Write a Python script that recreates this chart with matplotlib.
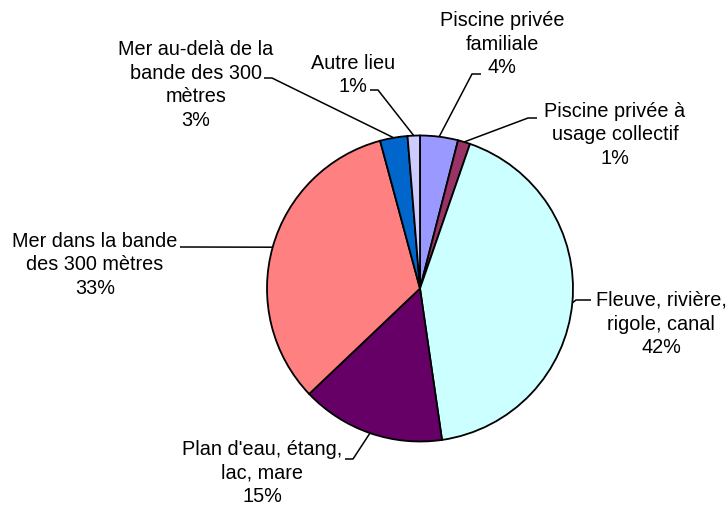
import numpy as np
import matplotlib
matplotlib.use('Agg')
import matplotlib.pyplot as plt

plt.rcParams['font.family'] = ['Liberation Sans', 'DejaVu Sans']

# données (parts en %)
labels = ['Piscine privée\nfamiliale', 'Piscine privée à\nusage collectif',
          'Fleuve, rivière,\nrigole, canal', "Plan d'eau, étang,\nlac, mare",
          'Mer dans la bande\ndes 300 mètres', 'Mer au-delà de la\nbande des 300\nmètres',
          'Autre lieu']
values = [4.0, 1.3, 42.4, 15.2, 32.9, 2.9, 1.3]
colors = ['#9999FF', '#993366', '#CCFFFF', '#660066', '#FF8080', '#0066CC', '#CCCCFF']

# mise en page (pixels, origine en haut à gauche)
W, H = 728, 507
cx, cy, R = 420, 288.5, 153
# centre du texte, coude du trait, fin du trait
layout = [
    ((502, 44), (472, 74), (481, 74)),
    ((615, 135), (528, 118), (537, 118)),
    ((661, 324), (576, 300), (591, 300)),
    ((262, 473), (353, 459), (345, 459)),
    ((95, 265), (185, 247), (180, 247)),
    ((196, 85), (272, 78), (264, 78)),
    ((353, 75), (378, 90), (370, 90)),
]

fig = plt.figure(figsize=(W / 100, H / 100), dpi=100)
ax = fig.add_axes([0, 0, 1, 1])

wedges, _ = ax.pie(values, colors=colors, startangle=90, counterclock=False,
                   center=(cx, H - cy), radius=R,
                   wedgeprops=dict(edgecolor='black', linewidth=1.3))

for w, lab, v, (txt, elbow, end) in zip(wedges, labels, values, layout):
    ang = np.deg2rad((w.theta1 + w.theta2) / 2)
    ax_ = cx + R * np.cos(ang)
    ay_ = (H - cy) + R * np.sin(ang)
    xs = [ax_, elbow[0], end[0]]
    ys = [ay_, H - elbow[1], H - end[1]]
    ax.plot(xs, ys, color='black', linewidth=1.1, solid_capstyle='butt')
    ax.text(txt[0], H - txt[1], f'{lab}\n{round(v)}%', ha='center', va='center',
            multialignment='center', fontsize=14.3, linespacing=1.3)

ax.set_xlim(0, W)
ax.set_ylim(0, H)
ax.set_aspect('equal')
ax.axis('off')

fig.savefig('out.png', dpi=100)
